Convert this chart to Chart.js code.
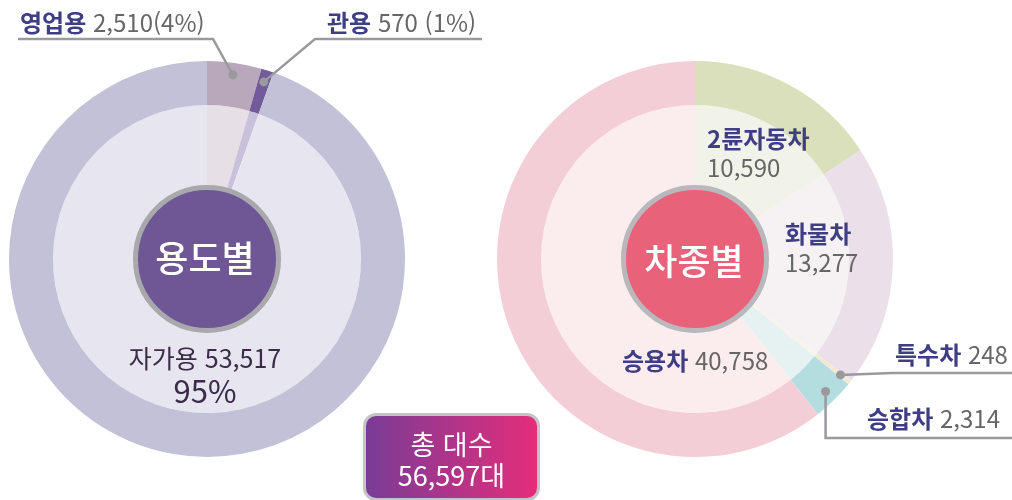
<!DOCTYPE html>
<html lang="ko">
<head>
<meta charset="utf-8">
<script src="https://cdn.jsdelivr.net/npm/chart.js@4/dist/chart.umd.min.js"></script>
<style>
  body { margin: 0; background: #fff; font-family: "Noto Sans CJK KR", "Noto Sans", sans-serif; }
  #wrap { position: relative; width: 1012px; height: 500px; overflow: hidden; }
  .layer { position: absolute; left: 0; top: 0; width: 1012px; height: 500px; }
  .lbl { position: absolute; white-space: nowrap; font-size: 24px; line-height: 1; color: #666; transform: translateY(-50%); }
  .lbl b { color: #3f3e85; font-weight: 700; }
  .mid { transform: translate(-50%, -50%); }
  .dark { color: #3b2a48; }
  .hub { color: #fff; font-size: 36px; font-weight: 500; }
  #total {
    position: absolute; left: 363px; top: 413px; width: 171px; height: 79px;
    border: 3px solid #c4c4c8; border-radius: 13px;
    background: linear-gradient(90deg, #7a3c96, #e52d7b);
    color: #fff; text-align: center; font-size: 27px; line-height: 31px;
    display: flex; flex-direction: column; justify-content: center;
    box-sizing: content-box; padding-top: 3px;
  }
</style>
</head>
<body>
<div id="wrap">
  <div class="layer"><canvas id="useChart"></canvas></div>
  <div class="layer"><canvas id="typeChart"></canvas></div>

  <div class="lbl" style="left:20px;top:22px"><b>영업용</b> <span id="l0"></span></div>
  <div class="lbl" style="left:327px;top:22px"><b>관용</b> <span id="l1"></span></div>
  <div class="lbl mid hub" style="left:205px;top:256px">용도별</div>
  <div class="lbl mid dark" style="left:205px;top:357px;font-size:25px" id="l2"></div>
  <div class="lbl mid dark" style="left:205px;top:389px;font-size:31px" id="l2p"></div>

  <div class="lbl mid hub" style="left:694px;top:259px">차종별</div>
  <div class="lbl" style="left:707px;top:138px"><b>2륜자동차</b></div>
  <div class="lbl" style="left:707px;top:167px" id="t0"></div>
  <div class="lbl" style="left:785px;top:233px"><b>화물차</b></div>
  <div class="lbl" style="left:785px;top:262px" id="t1"></div>
  <div class="lbl" style="left:895px;top:354px"><b>특수차</b> <span id="t2"></span></div>
  <div class="lbl" style="left:867px;top:418px"><b>승합차</b> <span id="t3"></span></div>
  <div class="lbl" style="left:622px;top:360px"><b>승용차</b> <span id="t4"></span></div>

  <div id="total"><div>총 대수</div><div id="totalNum"></div></div>
</div>

<script>
// 용도별 데이터
const useLabels = ['영업용', '관용', '자가용'];
const useValues = [2510, 570, 53517];
const usePercents = [4, 1, 95];

// 차종별 데이터
const typeLabels = ['2륜자동차', '화물차', '특수차', '승합차', '승용차'];
const typeValues = [10590, 13277, 248, 2314, 40758];

const totalCount = 56597;

// 색상
const useOuter = ['#b9a7bb', '#735a9b', '#c3c1d8'];
const useInner = ['#e6dfe6', '#c9c0dc', '#e7e5f0'];
const typeOuter = ['#dbe0bc', '#ebe0ea', '#f1ead2', '#b4dde0', '#f4ced6'];
const typeInner = ['#f1f2e8', '#f6f2f4', '#f8f4ea', '#e6f2f2', '#fbecee'];

const fmt = v => v.toLocaleString('en-US');

// 텍스트 채우기
document.getElementById('l0').textContent = fmt(useValues[0]) + '(' + usePercents[0] + '%)';
document.getElementById('l1').textContent = fmt(useValues[1]) + ' (' + usePercents[1] + '%)';
document.getElementById('l2').textContent = useLabels[2] + ' ' + fmt(useValues[2]);
document.getElementById('l2p').textContent = usePercents[2] + '%';
typeValues.forEach((v, i) => document.getElementById('t' + i).textContent = fmt(v));
document.getElementById('totalNum').textContent = fmt(totalCount) + '대';

// 가운데 원과 지시선을 그리는 플러그인
const donutExtras = {
  id: 'donutExtras',
  afterDatasetsDraw(chart, args, opts) {
    const ctx = chart.ctx;
    const arcs = chart.getDatasetMeta(0).data;
    const first = arcs[0];
    const cx = first.x, cy = first.y;

    // 가운데 원
    ctx.save();
    ctx.beginPath();
    ctx.arc(cx, cy, 71.5, 0, Math.PI * 2);
    ctx.fillStyle = opts.hubColor;
    ctx.fill();
    ctx.lineWidth = 5;
    ctx.strokeStyle = opts.hubBorder;
    ctx.stroke();

    // 지시선
    ctx.strokeStyle = '#9a9a9e';
    ctx.fillStyle = '#9a9a9e';
    ctx.lineWidth = 2.5;
    (opts.leaders || []).forEach(l => {
      const a = arcs[l.index];
      const mid = (a.startAngle + a.endAngle) / 2;
      const r = a.outerRadius - 12;
      const px = a.x + Math.cos(mid) * r;
      const py = a.y + Math.sin(mid) * r;
      ctx.beginPath();
      ctx.moveTo(px, py);
      const ex = l.vertical ? px : l.elbow[0];
      ctx.lineTo(ex, l.elbow[1]);
      ctx.lineTo(l.end, l.elbow[1]);
      ctx.stroke();
      ctx.beginPath();
      ctx.arc(px, py, 4.5, 0, Math.PI * 2);
      ctx.fill();
    });
    ctx.restore();
  }
};

function makeDonut(id, labels, values, outer, inner, padding, extras) {
  return new Chart(document.getElementById(id), {
    type: 'doughnut',
    data: {
      labels: labels,
      datasets: [
        { data: values, backgroundColor: outer, weight: 44 },
        { data: values, backgroundColor: inner, weight: 154 }
      ]
    },
    options: {
      responsive: true,
      maintainAspectRatio: false,
      animation: false,
      cutout: 0,
      borderWidth: 0,
      hoverOffset: 0,
      layout: { padding: padding },
      elements: { arc: { borderWidth: 0, offset: 0, hoverOffset: 0 } },
      plugins: {
        legend: { display: false },
        tooltip: { enabled: false },
        donutExtras: extras
      }
    },
    plugins: [donutExtras]
  });
}

makeDonut('useChart', useLabels, useValues, useOuter, useInner,
  { left: 9, right: 607, top: 61, bottom: 43 },
  {
    hubColor: '#6f5796', hubBorder: '#a9a9ad',
    leaders: [
      { index: 0, elbow: [213, 39], end: 18 },
      { index: 1, elbow: [315, 39], end: 482 }
    ]
  });

makeDonut('typeChart', typeLabels, typeValues, typeOuter, typeInner,
  { left: 497, right: 119, top: 61, bottom: 43 },
  {
    hubColor: '#e8627a', hubBorder: '#b9b9bd',
    leaders: [
      { index: 2, elbow: [892, 373], end: 1012 },
      { index: 3, vertical: true, elbow: [0, 438], end: 1012 }
    ]
  });
</script>
</body>
</html>
